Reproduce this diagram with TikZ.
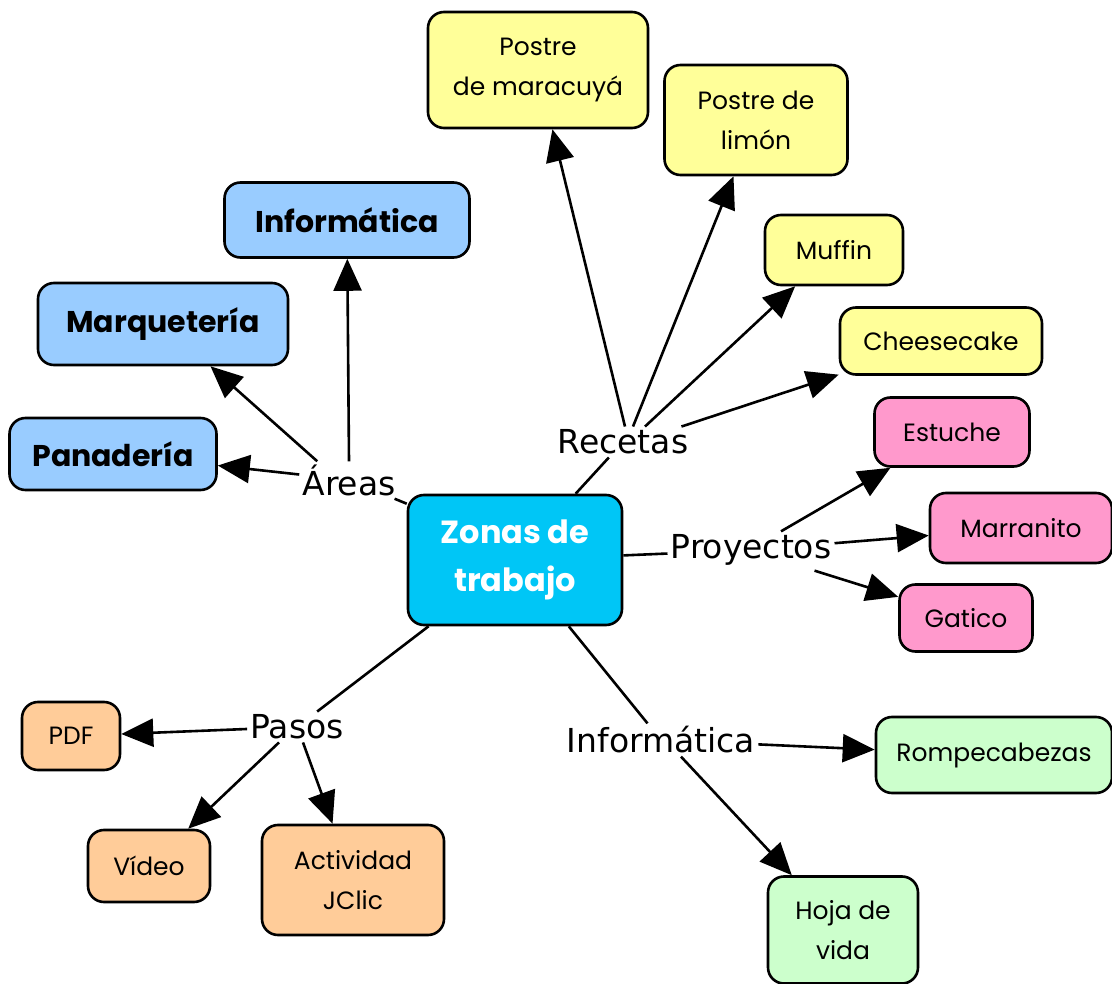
\documentclass[tikz,border=0pt]{standalone}
\usepackage{fontspec}
\setmainfont{DejaVu Sans}
\newfontfamily\boxfont{Poppins}
\usetikzlibrary{arrows.meta}
\definecolor{cyanc}{HTML}{00C6F6}
\definecolor{yel}{HTML}{FFFF99}
\definecolor{pnk}{HTML}{FF99CC}
\definecolor{grn}{HTML}{CCFFCC}
\definecolor{blu}{HTML}{99CCFF}
\definecolor{org}{HTML}{FFCC99}
\tikzset{
  cbox/.style={draw=black, line width=2.6pt, rounded corners=16pt, align=center, inner sep=0pt,
    font=\boxfont\fontsize{25}{40}\selectfont},
  bigbox/.style={cbox, font=\boxfont\bfseries\fontsize{30}{36}\selectfont},
  lnk/.style={inner sep=3pt, font=\fontsize{33}{38}\selectfont},
  con/.style={line width=2.6pt},
  arr/.style={con, -{Triangle[length=32pt,width=28pt]}},
}
\begin{document}
\begin{tikzpicture}[x=1pt,y=-1pt]
\useasboundingbox (0,0) rectangle (1112,984);
% main
\node[cbox, fill=cyanc, text=white, font=\boxfont\bfseries\fontsize{32}{48}\selectfont, minimum width=214pt, minimum height=130pt] (zt) at (515,560) {Zonas de\\trabajo};
% yellow
\node[cbox, fill=yel, minimum width=220pt, minimum height=116pt] (mar) at (538,70) {Postre\\de maracuyá};
\node[cbox, fill=yel, minimum width=183pt, minimum height=110pt] (lim) at (756,120) {Postre de\\limón};
\node[cbox, fill=yel, minimum width=138pt, minimum height=70pt] (muf) at (834,250) {Muffin};
\node[cbox, fill=yel, minimum width=202pt, minimum height=67pt] (che) at (941,341) {Cheesecake};
% pink
\node[cbox, fill=pnk, minimum width=155pt, minimum height=69pt] (est) at (952,432) {Estuche};
\node[cbox, fill=pnk, minimum width=182pt, minimum height=70pt] (mrr) at (1021,528) {Marranito};
\node[cbox, fill=pnk, minimum width=133pt, minimum height=67pt] (gat) at (966,618) {Gatico};
% green
\node[cbox, fill=grn, minimum width=236pt, minimum height=76pt] (rom) at (994,755) {Rompecabezas};
\node[cbox, fill=grn, minimum width=150pt, minimum height=107pt] (hoj) at (843,930) {Hoja de\\vida};
% blue
\node[bigbox, fill=blu, minimum width=245pt, minimum height=75pt] (inf) at (347,220) {Informática};
\node[bigbox, fill=blu, minimum width=250pt, minimum height=82pt] (mqt) at (163,324) {Marquetería};
\node[bigbox, fill=blu, minimum width=207pt, minimum height=72pt] (pan) at (113,454) {Panadería};
% orange
\node[cbox, fill=org, minimum width=98pt, minimum height=68pt] (pdf) at (71,736) {PDF};
\node[cbox, fill=org, minimum width=122pt, minimum height=72pt] (vid) at (149,866) {Vídeo};
\node[cbox, fill=org, minimum width=182pt, minimum height=110pt] (jcl) at (353,880) {Actividad\\JClic};
% linking phrases
\node[lnk] (rec) at (623,442) {Recetas};
\node[lnk] (are) at (349,480) {Áreas};
\node[lnk] (pro) at (751,550) {Proyectos};
\node[lnk] (pas) at (297,727) {Pasos};
\node[lnk] (inl) at (661,740) {Informática};
% connectors
\draw[con] (zt) -- (rec);
\draw[arr] (rec.north) ++(2,0) coordinate (r1) (r1) -- (mar);
\draw[arr] (rec.north) ++(10,0) coordinate (r2) (r2) -- (lim);
\draw[arr] (rec.north) ++(22,0) coordinate (r3) (r3) -- (muf);
\draw[arr] (rec.north east) ++(-10,0) coordinate (r4) (r4) -- (che);
\draw[con] (zt.north west) ++(0,10) coordinate (z1) (z1) -- (are);
\draw[arr] (are) -- (pan);
\draw[arr] (are.north west) ++(18,0) coordinate (a1) (a1) -- (mqt);
\draw[arr] (are.north) -- (inf);
\draw[con] (zt) -- (pro);
\draw[arr] (pro.north) ++(30,0) coordinate (p1) (p1) -- (est);
\draw[arr] (pro) -- (mrr);
\draw[arr] (pro.south east) ++(-20,2) coordinate (p2) (p2) -- (gat);
\draw[con] (zt) -- (pas);
\draw[arr] (pas) -- (pdf);
\draw[arr] (pas.south) ++(-18,0) coordinate (s1) (s1) -- (vid);
\draw[arr] (pas.south) ++(6,0) coordinate (s2) (s2) -- (jcl);
\draw[con] (zt) -- (inl);
\draw[arr] (inl) -- (rom);
\draw[arr] (inl.south) ++(20,0) coordinate (i1) (i1) -- (hoj);
\end{tikzpicture}
\end{document}
